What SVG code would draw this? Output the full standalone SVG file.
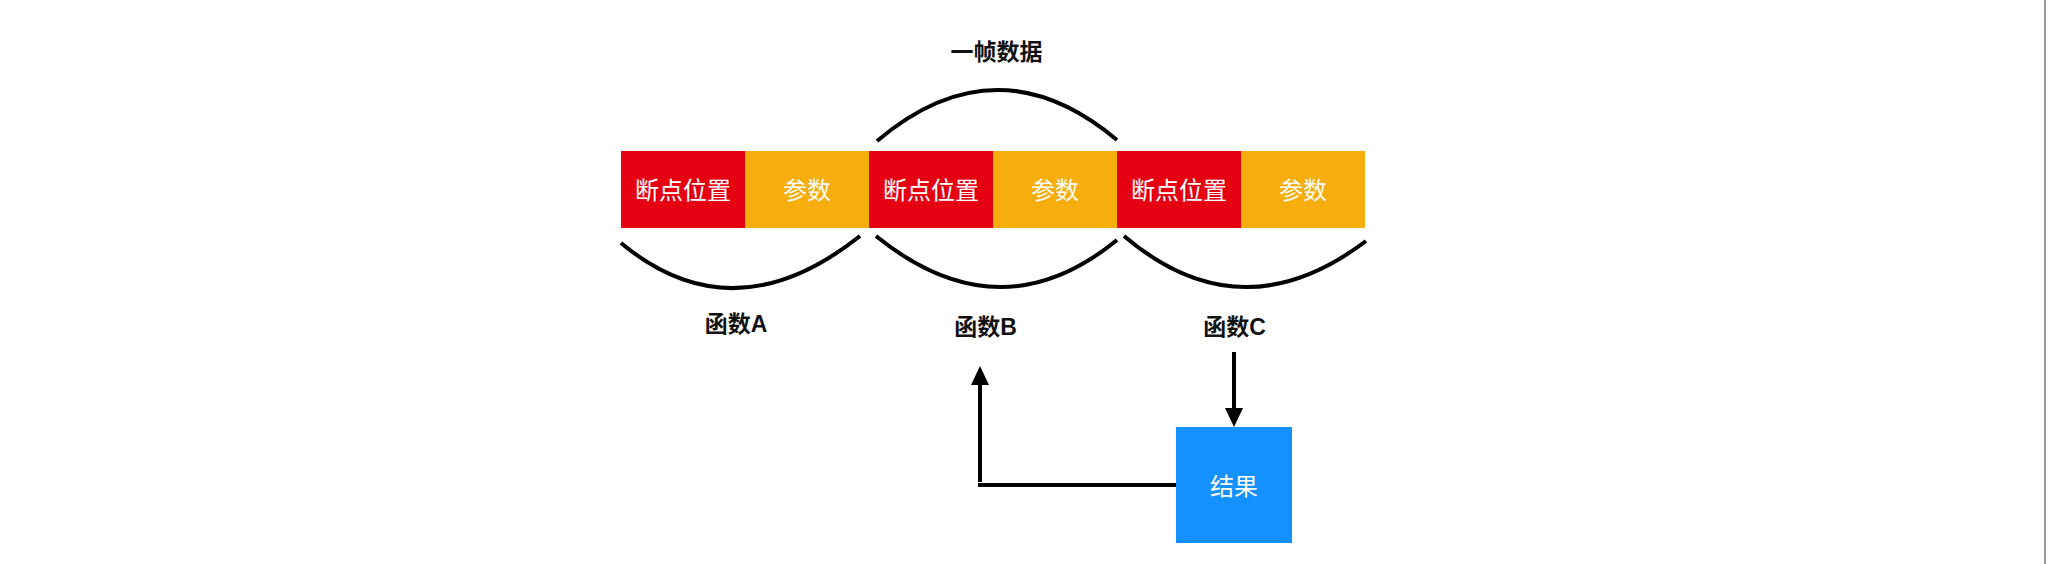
<svg xmlns="http://www.w3.org/2000/svg" width="2048" height="564" viewBox="0 0 2048 564">
  <style>
    .cell-red { fill: #E50012; }
    .cell-org { fill: #F5AE0D; }
    .cell-text { font-family: "Liberation Sans", "Noto Sans CJK SC", sans-serif; font-size: 24px; fill: #ffffff; text-anchor: middle; }
    .label { font-family: "Liberation Sans", "Noto Sans CJK SC", sans-serif; font-size: 23px; font-weight: bold; fill: #111111; text-anchor: middle; }
    .arc { fill: none; stroke: #000000; stroke-width: 4; }
    .conn { fill: none; stroke: #000000; stroke-width: 4; }
  </style>
  <defs>
    <marker id="arrow" viewBox="0 0 19 18" refX="0" refY="9" markerWidth="19" markerHeight="18" markerUnits="userSpaceOnUse" orient="auto">
      <path d="M0,0 L19,9 L0,18 Z" fill="#000000"/>
    </marker>
  </defs>
  <rect x="0" y="0" width="2048" height="564" fill="#ffffff"/>
  <rect x="2044" y="0" width="2" height="564" fill="#999999"/>

  <g id="cell1"><rect class="cell-red" x="621" y="151" width="124" height="77"/><text class="cell-text" x="683" y="198.5">断点位置</text></g>
  <g id="cell2"><rect class="cell-org" x="745" y="151" width="124" height="77"/><text class="cell-text" x="807" y="198.5">参数</text></g>
  <g id="cell3"><rect class="cell-red" x="869" y="151" width="124" height="77"/><text class="cell-text" x="931" y="198.5">断点位置</text></g>
  <g id="cell4"><rect class="cell-org" x="993" y="151" width="124" height="77"/><text class="cell-text" x="1055" y="198.5">参数</text></g>
  <g id="cell5"><rect class="cell-red" x="1117" y="151" width="124" height="77"/><text class="cell-text" x="1179" y="198.5">断点位置</text></g>
  <g id="cell6"><rect class="cell-org" x="1241" y="151" width="124" height="77"/><text class="cell-text" x="1303" y="198.5">参数</text></g>

  <g id="frame-label"><text class="label" x="996.5" y="60">一帧数据</text></g>
  <g id="funcA-label"><text class="label" x="736" y="331.5">函数A</text></g>
  <g id="funcB-label"><text class="label" x="985.5" y="335">函数B</text></g>
  <g id="funcC-label"><text class="label" x="1234.5" y="335">函数C</text></g>

  <g id="result"><rect x="1176" y="427" width="116" height="116" fill="#1490FF"/><text class="cell-text" x="1234" y="494.5">结果</text></g>

  <g id="arcs">
    <path class="arc" d="M877,141 Q997,39.5 1117,140"/>
    <path class="arc" d="M621,243 Q733.5,336.5 860,236"/>
    <path class="arc" d="M876,236 Q999.5,336 1117,240"/>
    <path class="arc" d="M1124,236 Q1241,335.5 1366,241"/>
  </g>

  <g id="connectors">
    <path class="conn" d="M1234,352 V408" marker-end="url(#arrow)"/>
    <path class="conn" d="M1176,485 H978"/>
    <path class="conn" d="M980,482 V385" marker-end="url(#arrow)"/>
  </g>
</svg>
